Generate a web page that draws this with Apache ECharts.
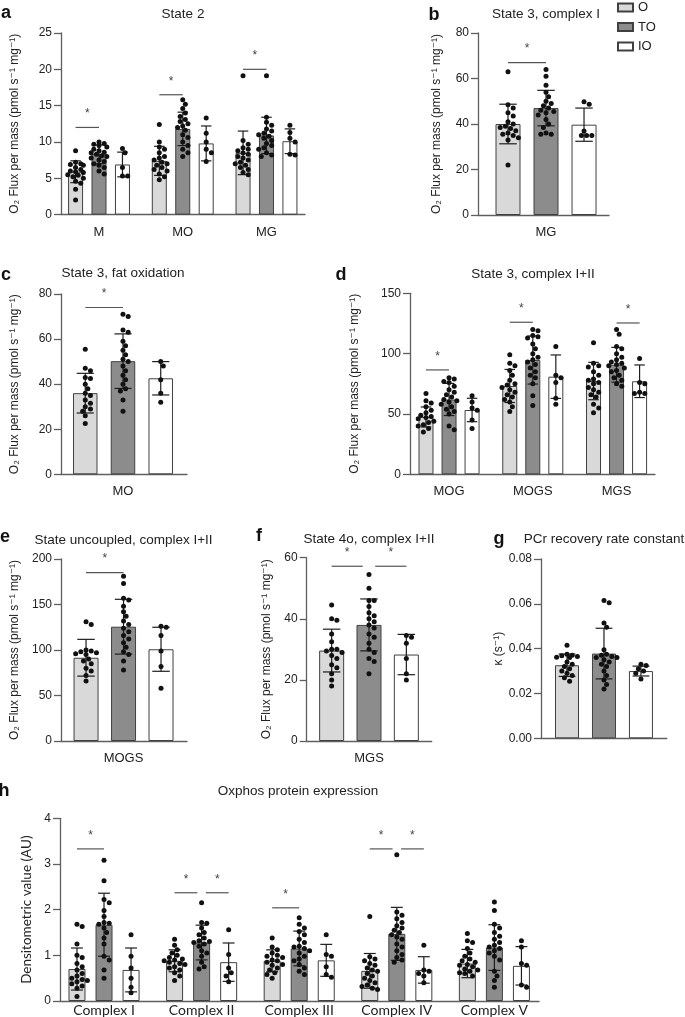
<!DOCTYPE html>
<html>
<head>
<meta charset="utf-8">
<script src="https://cdn.jsdelivr.net/npm/echarts@6/dist/echarts.min.js"></script>
<style>
  html, body { margin: 0; padding: 0; background: #fff; }
  #chart { width: 685px; height: 1017px; }
</style>
</head>
<body>
<div id="chart"></div>
<script>
// ---- data ----
// means / sds: one row per category, columns O, TO, IO
const aCats = ['M', 'MO', 'MG'];
const aMean = [[5.9, 8.3, 6.9], [7.4, 11.8, 9.8], [8.5, 10.9, 10.1]];
const aSd = [[1.5, 1.3, 1.7], [2.0, 2.3, 2.4], [3.0, 2.5, 1.7]];
const aDots = [
  [[8.8, 7.2, 7.0, 6.9, 6.8, 6.5, 6.2, 6.0, 5.9, 5.8, 5.5, 5.4, 5.2, 5.0, 4.6, 4.3, 3.5, 2.0],
   [10.0, 9.8, 9.7, 9.5, 9.3, 9.0, 8.8, 8.6, 8.5, 8.3, 8.1, 8.0, 7.8, 7.5, 7.3, 7.0, 6.8, 6.5, 6.0, 5.6],
   [9.1, 8.5, 6.5, 5.3, 5.3]],
  [[12.4, 10.0, 9.3, 9.0, 8.5, 8.0, 7.8, 7.5, 7.2, 7.0, 6.8, 6.5, 6.2, 6.0, 5.6, 5.2, 4.8],
   [15.8, 15.2, 14.6, 14.0, 13.5, 13.1, 12.8, 12.5, 12.2, 12.0, 11.6, 11.0, 10.6, 10.0, 9.5, 9.0, 8.5, 8.0],
   [13.3, 11.2, 10.0, 9.0, 8.5, 7.3]],
  [[19.1, 10.2, 9.7, 9.2, 9.0, 8.8, 8.5, 8.3, 8.0, 7.8, 7.5, 7.2, 7.0, 6.8, 6.5, 6.2, 5.8, 5.5],
   [19.1, 13.4, 12.7, 12.3, 11.8, 11.5, 11.2, 11.0, 10.8, 10.5, 10.2, 9.8, 9.5, 9.2, 9.0, 8.5, 8.2, 8.0],
   [12.3, 11.3, 10.5, 10.0, 8.3, 8.2]]
];
// significance bars: [category, from group, to group, y]
const aSig = [[0, 0, 1, 12], [1, 0, 1, 16.5], [2, 0, 1, 20]];

const bCats = ['MG'];
const bMean = [[40, 47, 39.7]];
const bSd = [[8.7, 7.8, 7.3]];
const bDots = [[
  [63, 48.5, 47, 45, 43.5, 41, 40, 39, 38.5, 38, 37, 36, 35.5, 35, 34, 33, 22],
  [64, 61, 57, 54, 52, 50, 49, 48, 47, 46, 45.5, 45, 44, 42, 40, 38.5, 36, 35.5, 35.5],
  [49.8, 48.7, 36.9, 34.9, 34.9, 34.9]
]];
const bSig = [[0, 0, 1, 67]];

const cCats = ['MO'];
const cMean = [[36, 50.2, 42.6]];
const cSd = [[8.8, 12.1, 7.4]];
const cDots = [[
  [55.5, 47, 46, 43, 42.5, 40, 38, 36, 35, 33, 31.5, 30, 29, 28, 26, 22.5],
  [71, 70, 64, 63, 59, 57, 55, 53, 51, 50, 48, 46, 44, 42, 40, 38, 37, 33, 28],
  [50, 48, 42, 36, 32]
]];
const cSig = [[0, 0, 1, 74]];

const dCats = ['MOG', 'MOGS', 'MGS'];
const dMean = [[47.5, 62, 53.3], [73.2, 94.7, 80.9], [77.3, 90.8, 77.1]];
const dSd = [[8.3, 13.3, 9.7], [13.7, 19.9, 18], [15.5, 14.4, 13.5]];
const dDots = [
  [[67, 61, 59, 56, 53, 51, 49, 48, 47, 46, 44, 43, 41, 40, 38, 35],
   [80, 79, 77, 76, 73, 70, 68, 66, 64, 62, 61, 60, 58, 56, 54, 52, 50, 40, 37],
   [65, 60, 55, 53, 45, 38]],
  [[99, 92, 90, 86, 82, 78, 75, 74, 72, 70, 68, 66, 64, 62, 60, 56, 52],
   [120, 119, 115, 114, 113, 108, 104, 100, 97, 95, 93, 91, 88, 85, 82, 80, 75, 65, 57],
   [106, 82, 80, 76, 63, 58]],
  [[109, 92, 90, 89, 85, 82, 79, 78, 76, 75, 72, 70, 68, 66, 64, 58, 55, 51],
   [120, 116, 106, 104, 100, 97, 95, 93, 92, 91, 90, 88, 86, 85, 82, 80, 78, 75, 73],
   [96, 76, 75, 68, 67, 67]]
];
const dSig = [[0, 0, 1, 86.5], [1, 0, 1, 126], [2, 1, 2, 125.4]];

const eCats = ['MOGS'];
const eMean = [[91.5, 125.6, 100.8]];
const eSd = [[20.2, 30.1, 24.2]];
const eDots = [[
  [131, 128, 100, 99, 98, 97, 96, 95, 90, 88, 85, 80, 77, 72, 66],
  [181, 173, 157, 155, 148, 142, 137, 132, 128, 124, 120, 116, 112, 108, 103, 98, 95, 88, 78],
  [126, 125, 116, 99, 82, 58]
]];
const eSig = [[0, 0, 1, 185]];

const fCats = ['MGS'];
const fMean = [[29.6, 38, 28.3]];
const fSd = [[7, 8.5, 6.6]];
const fDots = [[
  [44.5, 40, 39.5, 35, 32.5, 30, 30, 29.5, 29, 28, 27, 25, 24, 22, 20, 18],
  [54.5, 50, 46, 46, 44, 42, 41, 40, 39, 38, 37, 35, 34, 32, 30, 29, 27, 26, 22],
  [34.5, 34, 32, 27, 22, 20]
]];
const fSig = [[0, 0, 1, 57.2], [0, 1, 2, 57.2]];

const gCats = [''];
const gMean = [[0.0326, 0.0378, 0.030]];
const gSd = [[0.005, 0.0113, 0.0022]];
const gDots = [[
  [0.0415, 0.0375, 0.037, 0.0368, 0.0365, 0.0362, 0.036, 0.034, 0.033, 0.032, 0.031, 0.030, 0.029, 0.028, 0.027, 0.0255],
  [0.0615, 0.0605, 0.0515, 0.0495, 0.0395, 0.0375, 0.037, 0.0365, 0.036, 0.036, 0.035, 0.034, 0.033, 0.032, 0.030, 0.028, 0.026, 0.024, 0.022],
  [0.033, 0.0325, 0.031, 0.030, 0.029, 0.0265]
]];
const gSig = [];

const hCats = ['Complex I', 'Complex II', 'Complex III', 'Complex IV', 'Complex V'];
const hMean = [[0.70, 1.67, 0.68], [0.88, 1.28, 0.85], [0.88, 1.15, 0.89], [0.66, 1.47, 0.68], [0.82, 1.17, 0.77]];
const hSd = [[0.46, 0.69, 0.48], [0.24, 0.38, 0.42], [0.24, 0.38, 0.35], [0.38, 0.58, 0.29], [0.31, 0.50, 0.42]];
const hDots = [
  [[1.68, 1.63, 1.25, 1.0, 0.95, 0.82, 0.75, 0.68, 0.6, 0.55, 0.5, 0.47, 0.45, 0.42, 0.38, 0.33, 0.28, 0.1],
   [3.08, 2.63, 2.22, 2.15, 1.98, 1.85, 1.72, 1.7, 1.68, 1.6, 1.5, 1.38, 1.25, 0.98, 0.9, 0.68, 0.5],
   [1.45, 0.98, 0.72, 0.5, 0.3, 0.18]],
  [[1.35, 1.22, 1.12, 1.05, 1.0, 0.95, 0.92, 0.9, 0.88, 0.85, 0.82, 0.8, 0.75, 0.72, 0.68, 0.62, 0.55, 0.45],
   [2.15, 1.72, 1.7, 1.6, 1.5, 1.45, 1.38, 1.32, 1.3, 1.28, 1.25, 1.2, 1.1, 1.05, 0.98, 0.85, 0.75, 0.7],
   [1.56, 1.02, 0.72, 0.62, 0.55, 0.42]],
  [[1.38, 1.18, 1.12, 1.05, 1.0, 0.98, 0.95, 0.9, 0.88, 0.85, 0.8, 0.78, 0.72, 0.68, 0.62, 0.58, 0.5],
   [1.82, 1.68, 1.6, 1.52, 1.45, 1.35, 1.28, 1.2, 1.18, 1.15, 1.1, 1.05, 0.98, 0.92, 0.88, 0.8, 0.72, 0.65, 0.58],
   [1.45, 1.02, 0.98, 0.75, 0.58, 0.52]],
  [[1.85, 0.97, 0.92, 0.88, 0.82, 0.78, 0.72, 0.68, 0.65, 0.6, 0.55, 0.5, 0.45, 0.4, 0.35, 0.32, 0.28, 0.25],
   [3.2, 1.95, 1.88, 1.8, 1.72, 1.65, 1.6, 1.55, 1.5, 1.45, 1.4, 1.35, 1.25, 1.18, 1.1, 1.02, 0.95, 0.9, 0.85],
   [1.22, 0.68, 0.65, 0.6, 0.55, 0.4]],
  [[1.48, 1.32, 1.28, 1.15, 1.05, 0.98, 0.92, 0.88, 0.85, 0.8, 0.78, 0.75, 0.7, 0.68, 0.65, 0.62, 0.6, 0.55],
   [2.17, 1.98, 1.68, 1.6, 1.5, 1.42, 1.35, 1.28, 1.22, 1.18, 1.15, 1.1, 1.05, 0.98, 0.9, 0.65, 0.55, 0.45, 0.3],
   [1.32, 1.18, 0.82, 0.78, 0.35, 0.3]]
];
const hSig = [[0, 0, 1, 3.33], [1, 0, 1, 2.37], [1, 1, 2, 2.37], [2, 0, 1, 2.04], [3, 0, 1, 3.33], [3, 1, 2, 3.33]];

const groupNames = ['O', 'TO', 'IO'];

// ---- layout & style ----
const FONT = "'Liberation Sans', Arial, 'DejaVu Sans', sans-serif";
const FONT_H = "Lato, 'Liberation Sans', 'DejaVu Sans', sans-serif";
const groupFill = ['#d9d9d9', '#8c8c8c', '#ffffff'];
const AXIS = '#5f5f5f';
const INK = '#222';
const O2NAME = 'O\u2082 Flux per mass (pmol s\u207B\u00B9 mg\u207B\u00B9)';

const panels = [
  { cats: aCats, mean: aMean, sd: aSd, dots: aDots, sig: aSig, grid: [61, 33, 244, 181.6], xMin: -0.454, xMax: 2.46, step: 0.28,
    yMax: 25, yInt: 5, bw: 15, yName: O2NAME, nameGap: 40, title: 'State 2', tXY: [183, 14], letter: 'a', lXY: [6, 13] },
  { cats: bCats, mean: bMean, sd: bSd, dots: bDots, sig: bSig, grid: [478, 33, 131, 182], xMin: -0.501, xMax: 0.464, step: 0.28,
    yMax: 80, yInt: 20, bw: 25, yName: O2NAME, nameGap: 35, title: 'State 3, complex I', tXY: [546, 14], letter: 'b', lXY: [434, 15] },
  { cats: cCats, mean: cMean, sd: cSd, dots: cDots, sig: cSig, grid: [61, 294, 126, 180.3], xMin: -0.46, xMax: 0.475, step: 0.28,
    yMax: 80, yInt: 20, bw: 24.5, yName: O2NAME, nameGap: 40, title: 'State 3, fat oxidation', tXY: [123, 273.3], letter: 'c', lXY: [6, 275] },
  { cats: dCats, mean: dMean, sd: dSd, dots: dDots, sig: dSig, grid: [410, 293.3, 245, 181], xMin: -0.466, xMax: 2.459, step: 0.275,
    yMax: 150, yInt: 50, bw: 15, yName: O2NAME, nameGap: 49, title: 'State 3, complex I+II', tXY: [533, 274], letter: 'd', lXY: [341, 275] },
  { cats: eCats, mean: eMean, sd: eSd, dots: eDots, sig: eSig, grid: [61, 559, 126, 182], xMin: -0.467, xMax: 0.474, step: 0.28,
    yMax: 200, yInt: 50, bw: 25, yName: O2NAME, nameGap: 40, title: 'State uncoupled, complex I+II', tXY: [123.5, 540.5], letter: 'e', lXY: [5, 537] },
  { cats: fCats, mean: fMean, sd: fSd, dots: fDots, sig: fSig, grid: [306.7, 557.7, 125, 183.3], xMin: -0.467, xMax: 0.47, step: 0.28,
    yMax: 60, yInt: 20, bw: 25, yName: O2NAME, nameGap: 34, title: 'State 4o, complex I+II', tXY: [369, 539], letter: 'f', lXY: [259, 536] },
  { cats: gCats, mean: gMean, sd: gSd, dots: gDots, sig: gSig, grid: [541, 559, 125.7, 179.3], xMin: -0.477, xMax: 0.475, step: 0.28,
    yMax: 0.08, yInt: 0.02, bw: 24, yName: '\u03BA (s\u207B\u00B9)', nameGap: 36, title: 'PCr recovery rate constant', tXY: [604, 539], letter: 'g', lXY: [499, 539], dec: 2 },
  { cats: hCats, mean: hMean, sd: hSd, dots: hDots, sig: hSig, grid: [60, 818.3, 479, 182.7], xMin: -0.451, xMax: 4.457, step: 0.277,
    yMax: 4, yInt: 1, bw: 17, yName: 'Densitometric value (AU)', nameGap: 18, title: 'Oxphos protein expression', tXY: [298, 791], letter: 'h', lXY: [4, 791], calibri: true }
];

// spread dots sideways so they do not overlap (x offset only)
function swarm(vals, yPx, xPx, bw) {
  const D = 5, stepPx = 2.6, maxOff = bw / 2 + 2;
  const order = vals.map((v, i) => i).sort((i, j) => vals[j] - vals[i]);
  const placed = [], offs = new Array(vals.length).fill(0);
  const cands = [0];
  for (let k = stepPx; k <= maxOff; k += stepPx) cands.push(k, -k);
  order.forEach(i => {
    const y = vals[i] * yPx;
    let best = 0, bestD = -1;
    for (const c of cands) {
      let m = Infinity;
      for (const p of placed) m = Math.min(m, Math.hypot(p[0] - c, p[1] - y));
      if (m >= D) { best = c; break; }
      if (m > bestD) { bestD = m; best = c; }
    }
    placed.push([best, y]);
    offs[i] = best / xPx;
  });
  return offs;
}

const grids = [], xAxes = [], yAxes = [], series = [], graphics = [];

panels.forEach((p, i) => {
  const [gl, gt, gw, gh] = p.grid;
  grids.push({ left: gl, top: gt, width: gw, height: gh });
  const xPx = gw / (p.xMax - p.xMin);
  const yPx = gh / p.yMax;
  const lblFont = p.calibri ? FONT_H : FONT;

  xAxes.push({
    gridIndex: i, type: 'value', min: p.xMin, max: p.xMax,
    axisLine: { show: true, onZero: false, lineStyle: { color: AXIS, width: 1.3 } },
    axisTick: { show: false }, splitLine: { show: false },
    axisLabel: {
      customValues: p.cats.map((c, j) => j),
      formatter: v => p.cats[Math.round(v)] || '',
      margin: p.calibri ? 2 : 11, fontSize: p.calibri ? 14 : 13, color: INK, fontFamily: lblFont
    }
  });
  yAxes.push({
    gridIndex: i, type: 'value', min: 0, max: p.yMax, interval: p.yInt,
    axisLine: { show: true, onZero: false, lineStyle: { color: AXIS, width: 1.3 } },
    axisTick: { show: true, length: 7, lineStyle: { color: AXIS, width: 1.3 } },
    splitLine: { show: false },
    axisLabel: { margin: 9, fontSize: 12, color: INK, fontFamily: FONT,
      formatter: v => p.dec ? v.toFixed(p.dec) : String(Math.round(v)) },
    name: p.yName, nameLocation: 'middle', nameGap: p.nameGap,
    nameTextStyle: { fontSize: p.calibri ? 13.5 : 12, color: INK, fontFamily: lblFont }
  });

  // bars
  groupNames.forEach((g, k) => {
    series.push({
      type: 'bar', name: g, xAxisIndex: i, yAxisIndex: i,
      barWidth: p.bw, barGap: '-100%', z: 2,
      itemStyle: { color: groupFill[k], borderColor: '#404040', borderWidth: 1 },
      data: p.cats.map((c, j) => [j + (k - 1) * p.step, p.mean[j][k]])
    });
  });

  // error bars (mean +/- SD)
  const errData = [];
  p.cats.forEach((c, j) => groupNames.forEach((g, k) => errData.push([j + (k - 1) * p.step, p.mean[j][k], p.sd[j][k]])));
  const cap = p.bw * 0.35;
  series.push({
    type: 'custom', xAxisIndex: i, yAxisIndex: i, z: 3, silent: true,
    encode: { x: 0, y: 1 }, data: errData,
    renderItem: (params, api) => {
      const x = api.value(0), m = api.value(1), s = api.value(2);
      const top = api.coord([x, m + s]), bot = api.coord([x, m - s]);
      const st = { stroke: '#1e1e1e', lineWidth: 1.2 };
      return { type: 'group', children: [
        { type: 'line', shape: { x1: top[0], y1: top[1], x2: bot[0], y2: bot[1] }, style: st },
        { type: 'line', shape: { x1: top[0] - cap, y1: top[1], x2: top[0] + cap, y2: top[1] }, style: st },
        { type: 'line', shape: { x1: bot[0] - cap, y1: bot[1], x2: bot[0] + cap, y2: bot[1] }, style: st }
      ] };
    }
  });

  // individual points
  const dotData = [];
  p.cats.forEach((c, j) => groupNames.forEach((g, k) => {
    const vals = p.dots[j][k];
    const offs = swarm(vals, yPx, xPx, p.bw);
    vals.forEach((v, n) => dotData.push([j + (k - 1) * p.step + offs[n], v]));
  }));
  series.push({
    type: 'scatter', xAxisIndex: i, yAxisIndex: i, z: 4, silent: true,
    symbolSize: 5, itemStyle: { color: '#111', opacity: 1 }, data: dotData
  });

  // significance: where two bars meet at the same group, leave a small gap
  if (p.sig.length) {
    const gap = p.bw * 0.25;
    const sigData = p.sig.map(s => {
      const shareL = p.sig.some(o => o !== s && o[0] === s[0] && o[2] === s[1]);
      const shareR = p.sig.some(o => o !== s && o[0] === s[0] && o[1] === s[2]);
      return [s[0] + (s[1] - 1) * p.step, s[0] + (s[2] - 1) * p.step, s[3], shareL ? gap : 0, shareR ? gap : 0];
    });
    series.push({
      type: 'custom', xAxisIndex: i, yAxisIndex: i, z: 4, silent: true,
      encode: { x: [0, 1], y: 2 }, data: sigData,
      renderItem: (params, api) => {
        const a = api.coord([api.value(0), api.value(2)]);
        const b = api.coord([api.value(1), api.value(2)]);
        const x1 = a[0] + api.value(3), x2 = b[0] - api.value(4);
        return { type: 'group', children: [
          { type: 'line', shape: { x1: x1, y1: a[1], x2: x2, y2: b[1] }, style: { stroke: '#555', lineWidth: 1.2 } },
          { type: 'text', x: (x1 + x2) / 2, y: a[1] - 13.5,
            style: { text: '*', fontSize: 12, fontFamily: FONT, fill: '#444', align: 'center', verticalAlign: 'middle' } }
        ] };
      }
    });
  }

  graphics.push({ type: 'text', x: p.tXY[0], y: p.tXY[1],
    style: { text: p.title, fontSize: 13.5, fontFamily: FONT, fill: INK, align: 'center', verticalAlign: 'middle' } });
  graphics.push({ type: 'text', x: p.lXY[0], y: p.lXY[1],
    style: { text: p.letter, fontSize: 18, fontWeight: 'bold', fontFamily: FONT, fill: '#111', align: 'center', verticalAlign: 'middle' } });
});

const chart = echarts.init(document.getElementById('chart'), null, { renderer: 'canvas' });
chart.setOption({
  animation: false,
  backgroundColor: '#fff',
  legend: {
    data: groupNames, orient: 'vertical', left: 617, top: 1, padding: 0,
    itemWidth: 15, itemHeight: 8, itemGap: 6.5, icon: 'rect', selectedMode: false,
    textStyle: { fontSize: 13, color: INK, fontFamily: FONT }
  },
  grid: grids,
  xAxis: xAxes,
  yAxis: yAxes,
  series: series,
  graphic: graphics
});
</script>
</body>
</html>
